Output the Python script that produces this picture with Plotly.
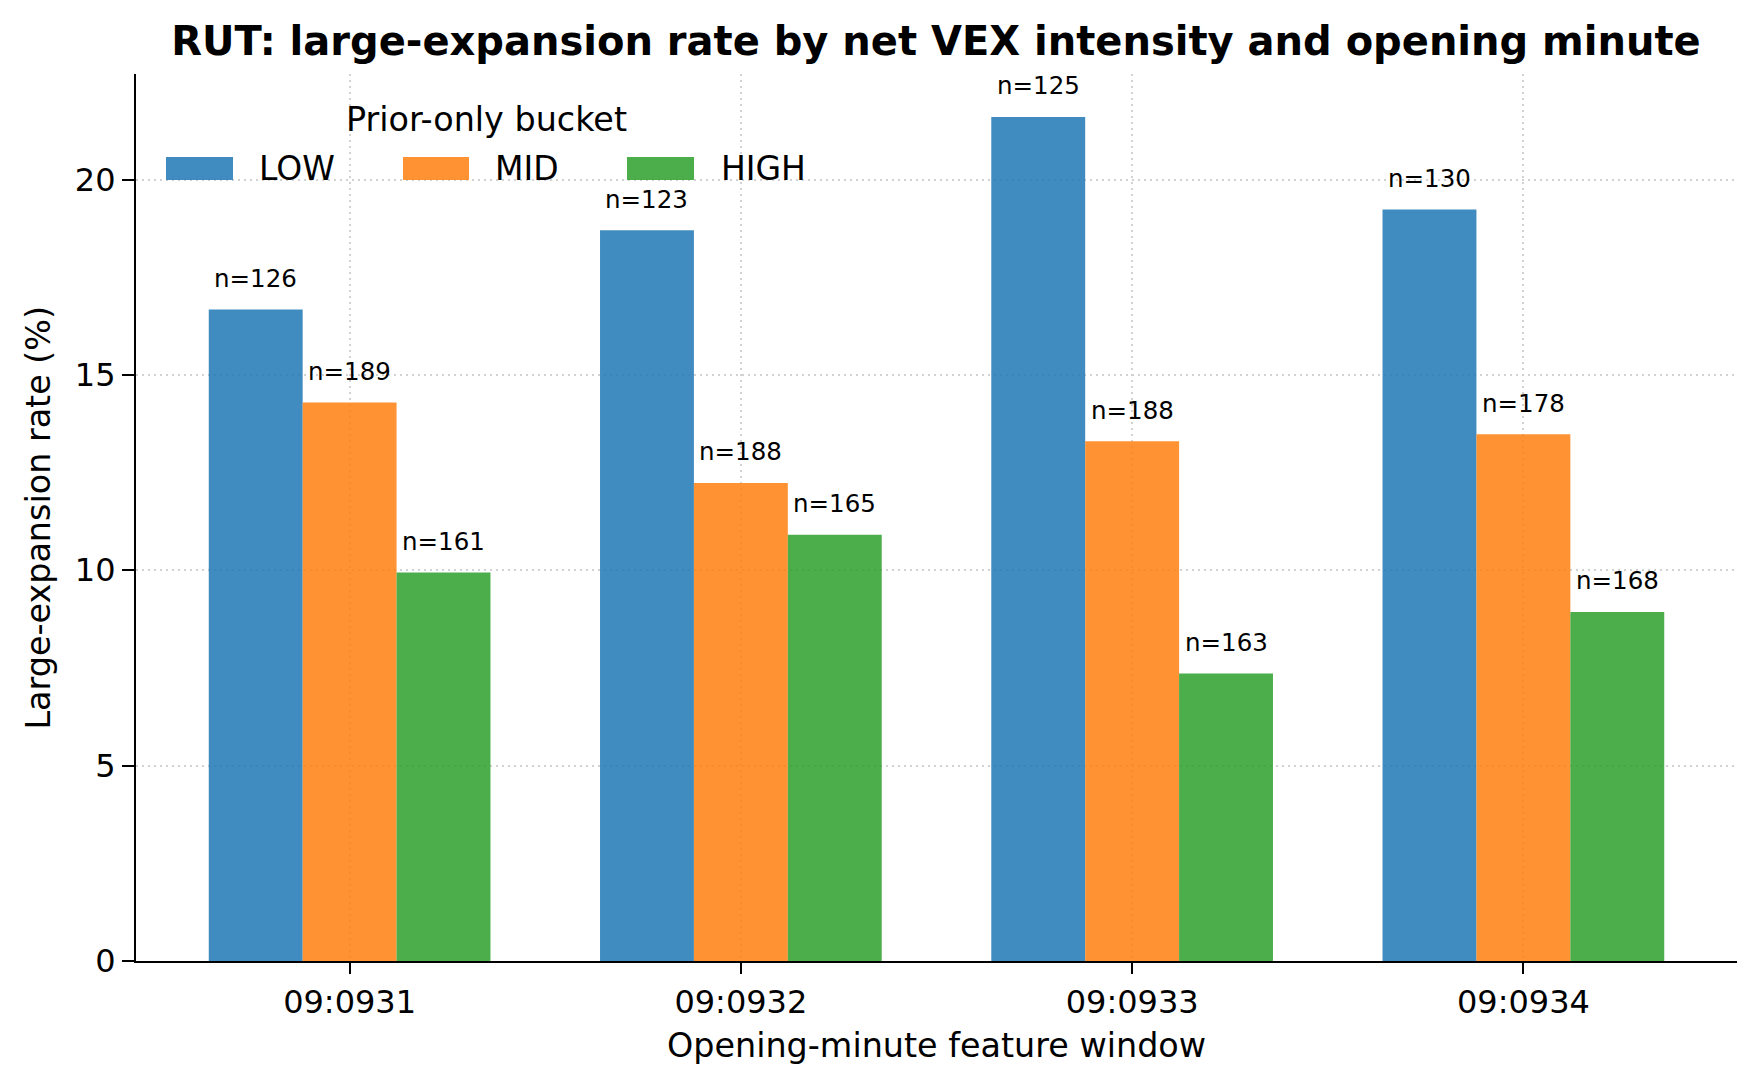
import plotly.graph_objects as go

# ---------------- data ----------------
categories = ["09:0931", "09:0932", "09:0933", "09:0934"]
buckets = ["LOW", "MID", "HIGH"]
low_rate = [16.67, 18.70, 21.60, 19.23]
mid_rate = [14.29, 12.23, 13.30, 13.48]
high_rate = [9.94, 10.91, 7.36, 8.93]
low_n = [126, 123, 125, 130]
mid_n = [189, 188, 188, 178]
high_n = [161, 165, 163, 168]

rates = [low_rate, mid_rate, high_rate]
counts = [low_n, mid_n, high_n]
colors = ["#1f77b4", "#ff7f0e", "#2ca02c"]

# ---------------- style / layout constants ----------------
W, H = 1759, 1088
ML, MR, MT, MB = 136, 22, 74, 127
FONT = "DejaVu Sans"
BAR_W = 0.24
LABEL_OFFSET = 0.4
YMAX = 22.7
XPAD = 0.546
GRID = "rgba(205,205,205,0.9)"

x_idx = list(range(len(categories)))

fig = go.Figure()
for j, (name, vals, col) in enumerate(zip(buckets, rates, colors)):
    fig.add_trace(go.Bar(
        x=x_idx, y=vals, name=name,
        marker=dict(color=col, opacity=0.85, line=dict(width=0)),
        showlegend=False,
    ))

annotations = []
for j, (vals, ns) in enumerate(zip(rates, counts)):
    off = (j - 1) * BAR_W
    for i, (v, n) in enumerate(zip(vals, ns)):
        annotations.append(dict(
            x=i + off, y=v + LABEL_OFFSET, xref="x", yref="y",
            text=f"n={n}", showarrow=False, xanchor="center", yanchor="bottom",
            font=dict(family=FONT, size=24.5, color="black"), borderpad=0,
        ))

pw = W - ML - MR
ph = H - MT - MB

def px_x(p):
    return (p - ML) / pw

def px_y(p):
    return (H - MB - p) / ph

# axis titles
annotations.append(dict(
    x=0.5, y=px_y(1045), xref="paper", yref="paper",
    text="Opening-minute feature window", showarrow=False,
    xanchor="center", yanchor="middle",
    font=dict(family=FONT, size=33.4, color="black"),
))
annotations.append(dict(
    x=px_x(38), y=0.5, xref="paper", yref="paper",
    text="Large-expansion rate (%)", showarrow=False, textangle=-90,
    xanchor="center", yanchor="middle",
    font=dict(family=FONT, size=33.4, color="black"),
))

# custom legend (matplotlib-style wide patches)
leg_patch_x = [(166, 233), (403, 469), (627, 694)]
leg_text_x = [257, 493, 719]
leg_y0, leg_y1, leg_ty = 180, 157, 168
shapes = []
for (x0, x1), tx, name, col in zip(leg_patch_x, leg_text_x, buckets, colors):
    shapes.append(dict(
        type="rect", xref="paper", yref="paper",
        x0=px_x(x0), x1=px_x(x1), y0=px_y(leg_y0), y1=px_y(leg_y1),
        fillcolor=col, opacity=0.85, line=dict(width=0), layer="above",
    ))
    annotations.append(dict(
        x=px_x(tx), y=px_y(leg_ty), xref="paper", yref="paper",
        text=name, showarrow=False, xanchor="left", yanchor="middle",
        font=dict(family=FONT, size=33, color="black"),
    ))
annotations.append(dict(
    x=px_x(486), y=px_y(119), xref="paper", yref="paper",
    text="Prior-only bucket", showarrow=False, xanchor="center", yanchor="middle",
    font=dict(family=FONT, size=33.4, color="black"),
))

fig.update_layout(
    width=W, height=H,
    margin=dict(l=ML, r=MR, t=MT, b=MB, autoexpand=False),
    paper_bgcolor="white", plot_bgcolor="white",
    barmode="group", bargap=1 - 3 * BAR_W, bargroupgap=0,
    font=dict(family=FONT, color="black"),
    title=dict(
        text="<b>RUT: large-expansion rate by net VEX intensity and opening minute</b>",
        x=px_x(936), xanchor="center", xref="paper",
        y=1 - 41 / H, yanchor="middle", yref="container",
        font=dict(family=FONT, size=40, color="black"),
    ),
    annotations=annotations,
    shapes=shapes,
)

fig.update_xaxes(
    range=[-XPAD, len(categories) - 1 + XPAD],
    tickmode="array", tickvals=x_idx, ticktext=categories,
    showline=True, linecolor="black", linewidth=2.2, mirror=False,
    ticks="outside", ticklen=11, tickwidth=2.2, tickcolor="black",
    tickfont=dict(family=FONT, size=32, color="black"),
    showgrid=True, gridcolor=GRID, gridwidth=2.2, griddash="2.2px,3.8px",
    zeroline=False, layer="above traces", automargin=False,
)
fig.update_yaxes(
    range=[0, YMAX],
    tickmode="array", tickvals=[0, 5, 10, 15, 20], ticktext=["0", "5", "10", "15", "20"],
    showline=True, linecolor="black", linewidth=2.2, mirror=False,
    ticks="outside", ticklen=12, tickwidth=2.2, tickcolor="black",
    tickfont=dict(family=FONT, size=32, color="black"),
    showgrid=True, gridcolor=GRID, gridwidth=2.2, griddash="2.2px,3.8px",
    zeroline=False, layer="above traces", automargin=False,
)

fig.write_html("out.html")
